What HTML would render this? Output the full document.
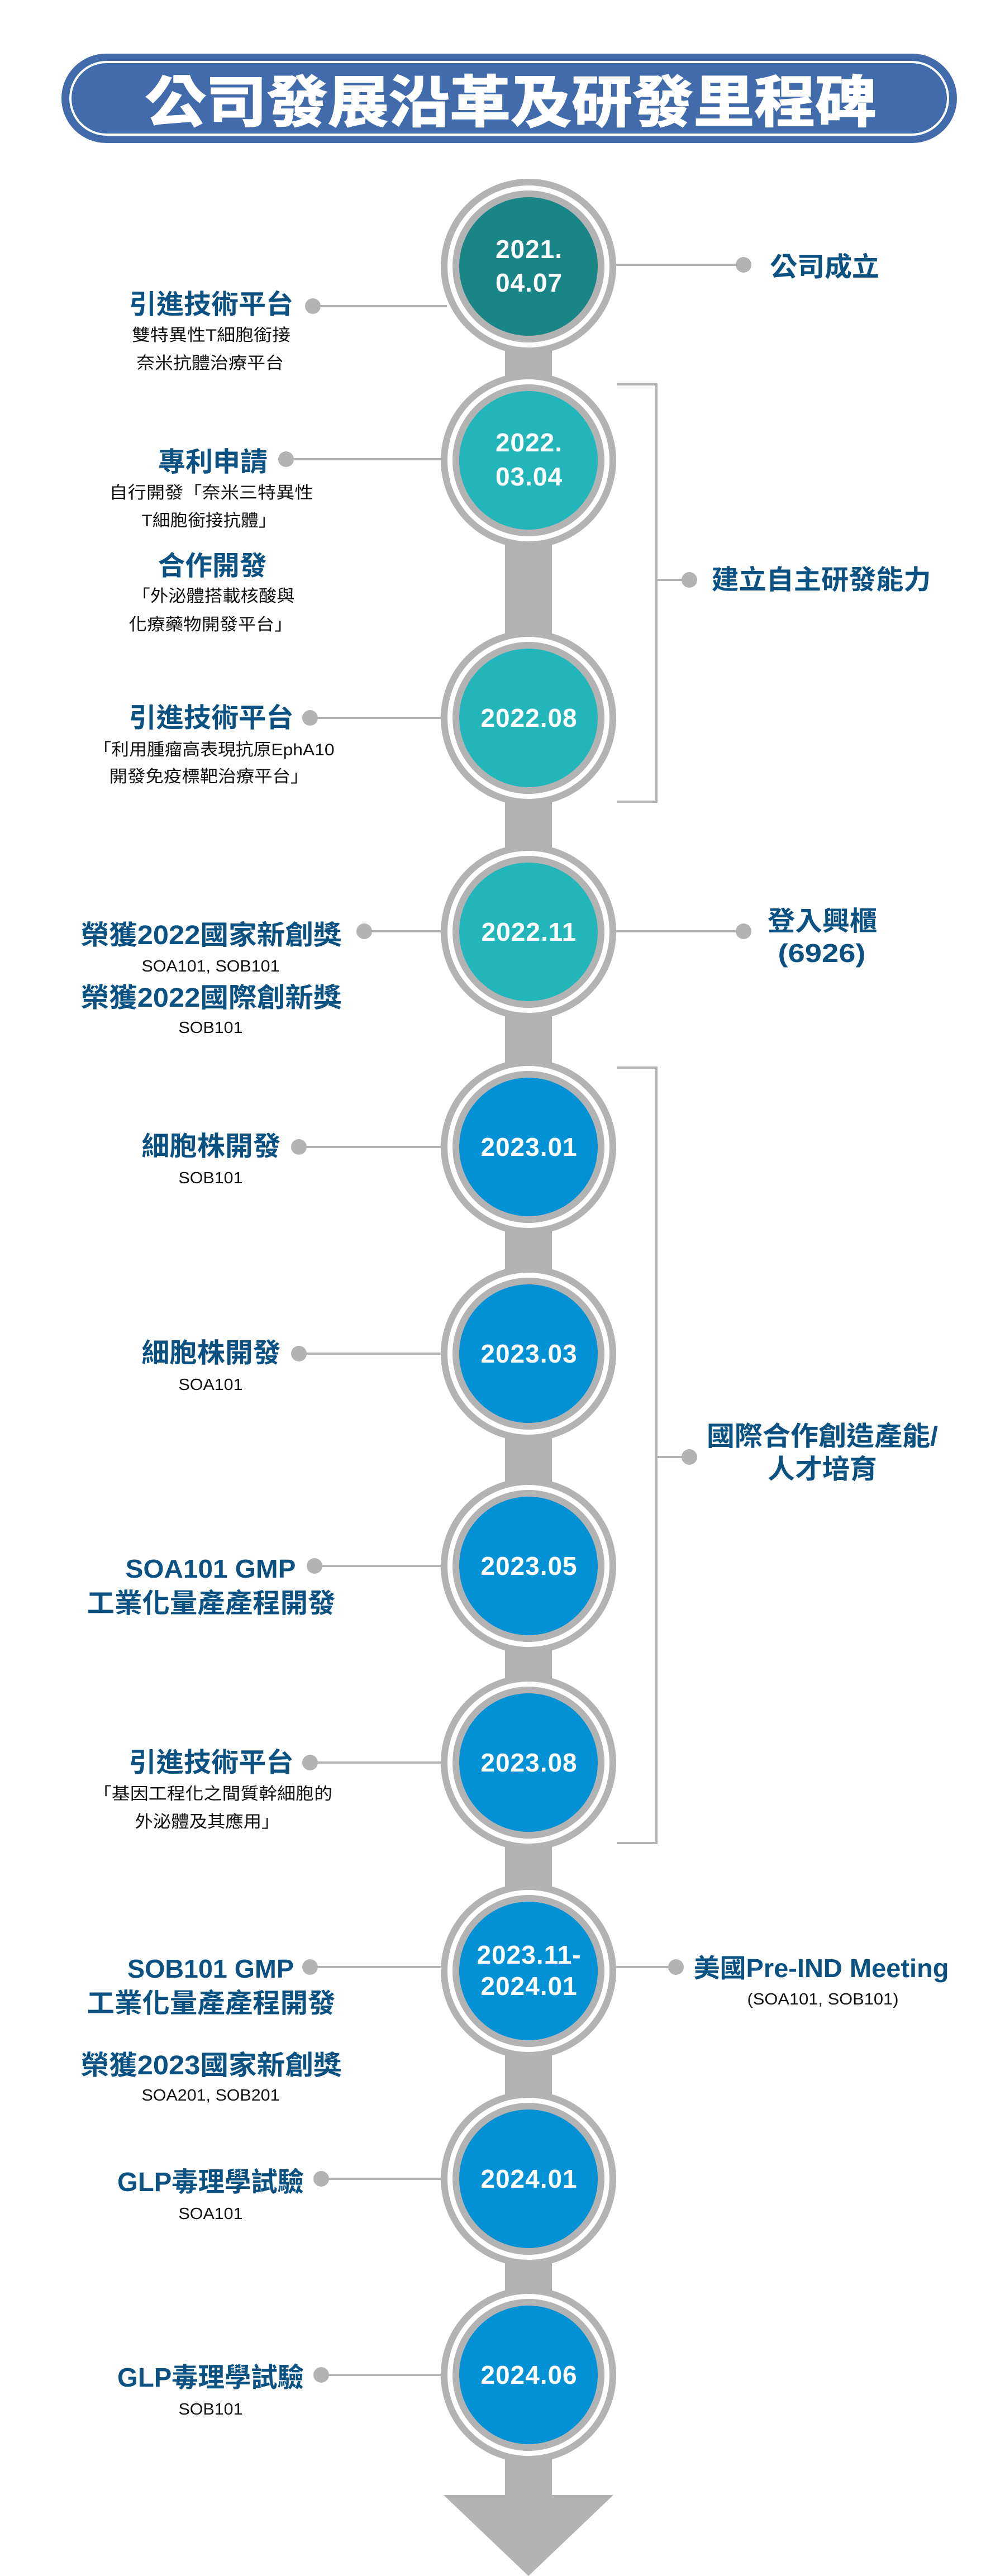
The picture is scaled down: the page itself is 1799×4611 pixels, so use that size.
<!DOCTYPE html>
<html><head><meta charset="utf-8">
<style>
html,body{margin:0;padding:0;background:#fff;}
svg{display:block;}
.h{font-family:"Liberation Sans","Noto Sans CJK TC",sans-serif;font-weight:bold;fill:#0b5283;}
.s{font-family:"Liberation Sans","Noto Sans CJK TC",sans-serif;fill:#111;}
.d{font-family:"Liberation Sans",sans-serif;font-weight:bold;fill:#fff;font-size:46px;letter-spacing:1px;}
</style></head>
<body>
<svg width="1799" height="4611" viewBox="0 0 1799 4611" xmlns="http://www.w3.org/2000/svg">
<rect x="0" y="0" width="1799" height="4611" fill="#fff"/>
<rect x="110" y="96" width="1603" height="160" rx="80" fill="#416bab"/>
<rect x="126" y="111" width="1571" height="130" rx="65" fill="none" stroke="#fff" stroke-width="4"/>
<text x="914" y="218" text-anchor="middle" font-family="'Liberation Sans','Noto Sans CJK TC',sans-serif" font-weight="bold" font-size="100" fill="#fff" stroke="#fff" stroke-width="2" textLength="1309" lengthAdjust="spacingAndGlyphs">公司發展沿革及研發里程碑</text>

<rect x="904" y="470" width="84" height="4000" fill="#b3b3b3"/>
<polygon points="794,4466 1098,4466 946,4611" fill="#b3b3b3"/>

<g stroke="#b3b3b3" stroke-width="4" fill="none">
<polyline points="1104,688 1175,688 1175,1435 1104,1435"/>
<line x1="1175" y1="1038" x2="1234" y2="1038"/>
<polyline points="1104,1911 1175,1911 1175,3299 1104,3299"/>
<line x1="1175" y1="2608" x2="1234" y2="2608"/>
</g>
<g fill="#b3b3b3"><circle cx="1234" cy="1038" r="14"/><circle cx="1234" cy="2608" r="14"/></g>

<g stroke="#b3b3b3" stroke-width="4">
<line x1="560" y1="548" x2="800" y2="548"/>
<line x1="1090" y1="474" x2="1331" y2="474"/>
<line x1="512" y1="822" x2="800" y2="822"/>
<line x1="555" y1="1285" x2="800" y2="1285"/>
<line x1="652" y1="1667" x2="800" y2="1667"/>
<line x1="1090" y1="1667" x2="1331" y2="1667"/>
<line x1="535" y1="2053" x2="800" y2="2053"/>
<line x1="535" y1="2423" x2="800" y2="2423"/>
<line x1="563" y1="2803" x2="800" y2="2803"/>
<line x1="555" y1="3155" x2="800" y2="3155"/>
<line x1="555" y1="3521" x2="800" y2="3521"/>
<line x1="1090" y1="3521" x2="1210" y2="3521"/>
<line x1="575" y1="3900" x2="800" y2="3900"/>
<line x1="575" y1="4251" x2="800" y2="4251"/>
</g>
<g fill="#b3b3b3">
<circle cx="560" cy="548" r="14"/><circle cx="1331" cy="474" r="14"/>
<circle cx="512" cy="822" r="14"/><circle cx="555" cy="1285" r="14"/>
<circle cx="652" cy="1667" r="14"/><circle cx="1331" cy="1667" r="14"/>
<circle cx="535" cy="2053" r="14"/><circle cx="535" cy="2423" r="14"/>
<circle cx="563" cy="2803" r="14"/><circle cx="555" cy="3155" r="14"/>
<circle cx="555" cy="3521" r="14"/><circle cx="1210" cy="3521" r="14"/>
<circle cx="575" cy="3900" r="14"/><circle cx="575" cy="4251" r="14"/>
</g>

<defs>
<g id="ring"><circle r="157" fill="#b3b3b3"/><circle r="145" fill="#fff"/><circle r="136" fill="#b3b3b3"/></g>
</defs>
<g transform="translate(946,477)"><use href="#ring"/><circle r="124" fill="#1a8586"/></g>
<g transform="translate(946,824)"><use href="#ring"/><circle r="124" fill="#22b6ba"/></g>
<g transform="translate(946,1285)"><use href="#ring"/><circle r="124" fill="#22b6ba"/></g>
<g transform="translate(946,1668)"><use href="#ring"/><circle r="124" fill="#22b6ba"/></g>
<g transform="translate(946,2053)"><use href="#ring"/><circle r="124" fill="#0391d6"/></g>
<g transform="translate(946,2423)"><use href="#ring"/><circle r="124" fill="#0391d6"/></g>
<g transform="translate(946,2803)"><use href="#ring"/><circle r="124" fill="#0391d6"/></g>
<g transform="translate(946,3155)"><use href="#ring"/><circle r="124" fill="#0391d6"/></g>
<g transform="translate(946,3528)"><use href="#ring"/><circle r="124" fill="#0391d6"/></g>
<g transform="translate(946,3900)"><use href="#ring"/><circle r="124" fill="#0391d6"/></g>
<g transform="translate(946,4251)"><use href="#ring"/><circle r="124" fill="#0391d6"/></g>

<g text-anchor="middle">
<text class="d" x="947" y="462">2021.</text>
<text class="d" x="947" y="522">04.07</text>
<text class="d" x="947" y="808">2022.</text>
<text class="d" x="947" y="869">03.04</text>
<text class="d" x="947" y="1301">2022.08</text>
<text class="d" x="947" y="1684">2022.11</text>
<text class="d" x="947" y="2069">2023.01</text>
<text class="d" x="947" y="2439">2023.03</text>
<text class="d" x="947" y="2819">2023.05</text>
<text class="d" x="947" y="3171">2023.08</text>
<text class="d" x="947" y="3515">2023.11-</text>
<text class="d" x="947" y="3571">2024.01</text>
<text class="d" x="947" y="3916">2024.01</text>
<text class="d" x="947" y="4267">2024.06</text>
</g>

<g text-anchor="middle">
<text class="h" x="378" y="561" font-size="48" textLength="294" lengthAdjust="spacingAndGlyphs">引進技術平台</text>
<text class="s" x="378" y="610" font-size="30" textLength="284" lengthAdjust="spacingAndGlyphs">雙特異性T細胞銜接</text>
<text class="s" x="376" y="660" font-size="30" textLength="264" lengthAdjust="spacingAndGlyphs">奈米抗體治療平台</text>

<text class="h" x="381" y="843" font-size="48" textLength="196" lengthAdjust="spacingAndGlyphs">專利申請</text>
<text class="s" x="378" y="892" font-size="30" textLength="365" lengthAdjust="spacingAndGlyphs">自行開發「奈米三特異性</text>
<text class="s" x="374" y="942" font-size="30" textLength="241" lengthAdjust="spacingAndGlyphs">T細胞銜接抗體」</text>
<text class="h" x="380" y="1029" font-size="48" textLength="195" lengthAdjust="spacingAndGlyphs">合作開發</text>
<text class="s" x="382" y="1077" font-size="30" textLength="291" lengthAdjust="spacingAndGlyphs">「外泌體搭載核酸與</text>
<text class="s" x="377" y="1128" font-size="30" textLength="293" lengthAdjust="spacingAndGlyphs">化療藥物開發平台」</text>

<text class="h" x="378" y="1301" font-size="48" textLength="295" lengthAdjust="spacingAndGlyphs">引進技術平台</text>
<text class="s" x="383" y="1352" font-size="30" textLength="431" lengthAdjust="spacingAndGlyphs">「利用腫瘤高表現抗原EphA10</text>
<text class="s" x="374" y="1400" font-size="30" textLength="357" lengthAdjust="spacingAndGlyphs">開發免疫標靶治療平台」</text>

<text class="h" x="378" y="1690" font-size="48" textLength="467" lengthAdjust="spacingAndGlyphs">榮獲2022國家新創獎</text>
<text class="s" x="377" y="1739" font-size="29" textLength="247" lengthAdjust="spacingAndGlyphs">SOA101, SOB101</text>
<text class="h" x="378" y="1802" font-size="48" textLength="467" lengthAdjust="spacingAndGlyphs">榮獲2022國際創新獎</text>
<text class="s" x="377" y="1849" font-size="29" textLength="115" lengthAdjust="spacingAndGlyphs">SOB101</text>

<text class="h" x="378" y="2068" font-size="48" textLength="249" lengthAdjust="spacingAndGlyphs">細胞株開發</text>
<text class="s" x="377" y="2118" font-size="29" textLength="115" lengthAdjust="spacingAndGlyphs">SOB101</text>
<text class="h" x="378" y="2438" font-size="48" textLength="249" lengthAdjust="spacingAndGlyphs">細胞株開發</text>
<text class="s" x="377" y="2488" font-size="29" textLength="115" lengthAdjust="spacingAndGlyphs">SOA101</text>

<text class="h" x="377" y="2824" font-size="46" textLength="305" lengthAdjust="spacingAndGlyphs">SOA101 GMP</text>
<text class="h" x="378" y="2886" font-size="48" textLength="445" lengthAdjust="spacingAndGlyphs">工業化量產產程開發</text>

<text class="h" x="378" y="3171" font-size="48" textLength="295" lengthAdjust="spacingAndGlyphs">引進技術平台</text>
<text class="s" x="381" y="3221" font-size="30" textLength="428" lengthAdjust="spacingAndGlyphs">「基因工程化之間質幹細胞的</text>
<text class="s" x="371" y="3271" font-size="30" textLength="259" lengthAdjust="spacingAndGlyphs">外泌體及其應用」</text>

<text class="h" x="377" y="3540" font-size="46" textLength="298" lengthAdjust="spacingAndGlyphs">SOB101 GMP</text>
<text class="h" x="378" y="3602" font-size="48" textLength="445" lengthAdjust="spacingAndGlyphs">工業化量產產程開發</text>
<text class="h" x="378" y="3713" font-size="48" textLength="467" lengthAdjust="spacingAndGlyphs">榮獲2023國家新創獎</text>
<text class="s" x="377" y="3760" font-size="29" textLength="247" lengthAdjust="spacingAndGlyphs">SOA201, SOB201</text>

<text class="h" x="377" y="3922" font-size="48" textLength="334" lengthAdjust="spacingAndGlyphs">GLP毒理學試驗</text>
<text class="s" x="377" y="3972" font-size="29" textLength="115" lengthAdjust="spacingAndGlyphs">SOA101</text>
<text class="h" x="377" y="4272" font-size="48" textLength="334" lengthAdjust="spacingAndGlyphs">GLP毒理學試驗</text>
<text class="s" x="377" y="4322" font-size="29" textLength="115" lengthAdjust="spacingAndGlyphs">SOB101</text>
</g>

<g text-anchor="middle">
<text class="h" x="1476" y="494" font-size="48" textLength="196" lengthAdjust="spacingAndGlyphs">公司成立</text>
<text class="h" x="1470" y="1054" font-size="48" textLength="393" lengthAdjust="spacingAndGlyphs">建立自主研發能力</text>
<text class="h" x="1472" y="1665" font-size="48" textLength="196" lengthAdjust="spacingAndGlyphs">登入興櫃</text>
<text class="h" x="1471" y="1722" font-size="46" textLength="157" lengthAdjust="spacingAndGlyphs">(6926)</text>
<text class="h" x="1472" y="2587" font-size="48" textLength="414" lengthAdjust="spacingAndGlyphs">國際合作創造產能/</text>
<text class="h" x="1472" y="2646" font-size="48" textLength="196" lengthAdjust="spacingAndGlyphs">人才培育</text>
<text class="h" x="1470" y="3539" font-size="46" textLength="457" lengthAdjust="spacingAndGlyphs">美國Pre-IND Meeting</text>
<text class="s" x="1473" y="3588" font-size="29" textLength="271" lengthAdjust="spacingAndGlyphs">(SOA101, SOB101)</text>
</g>
</svg>
</body></html>
